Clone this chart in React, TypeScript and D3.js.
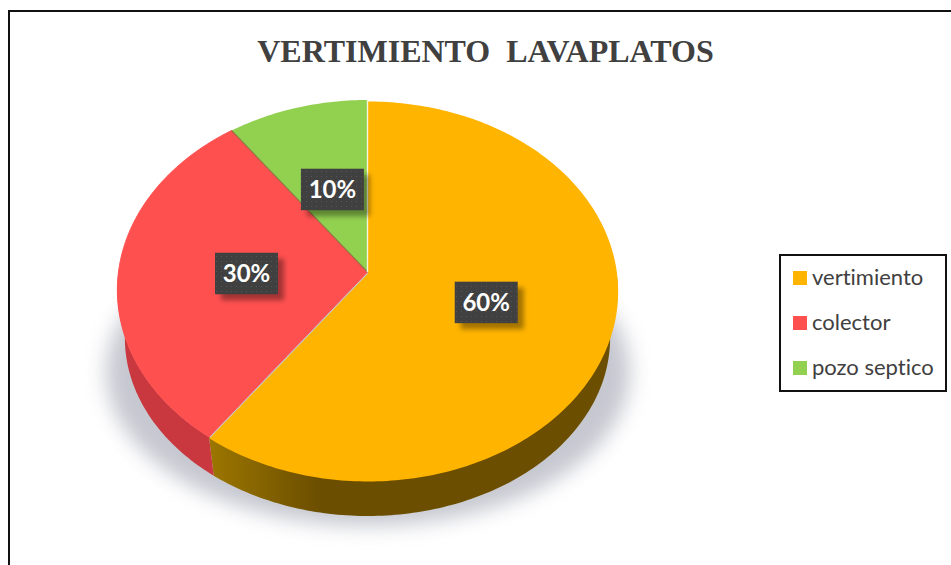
import React from "react";
import * as d3 from "d3";

const categories = ["vertimiento", "colector", "pozo septico"];
const values = [60, 30, 10];
const colors = ["#FFB400", "#FF5050", "#92D050"];
const sideColors = ["url(#sideYellow)", "#C9383F", "#6b8f3a"];
const titleText = "VERTIMIENTO  LAVAPLATOS";

const W = 951;
const H = 565;

// perspective projection of the unit disc onto the tilted pie face
const APEX = { x: 367.5, y: 272 };
const SX = 249;
const PY = 162.5;
const R = -0.0947;
function project(angle: number, r = 1) {
  const u = Math.sin(angle) * r;
  const t = -Math.cos(angle) * r;
  const d = 1 + R * t;
  return { x: APEX.x + (SX * u) / d, y: (PY * t + APEX.y) / d };
}
function projectBottom(angle: number) {
  const p = project(angle);
  return { x: APEX.x + (p.x - APEX.x) * 0.97, y: 338 + (p.y - 290) * 0.937 };
}
function arcPoints(a0: number, a1: number, f: (a: number) => { x: number; y: number }) {
  const n = Math.max(2, Math.ceil((a1 - a0) * 60));
  return d3.range(n + 1).map((i) => f(a0 + ((a1 - a0) * i) / n));
}
const line = d3
  .line<{ x: number; y: number }>()
  .x((d) => d.x)
  .y((d) => d.y);

export default function App() {
  const arcs = d3
    .pie<number>()
    .sort(null)
    .startAngle(0)
    .endAngle(2 * Math.PI)(values);

  const legendY = d3
    .scalePoint<string>()
    .domain(categories)
    .range([278, 368]);

  const offsets = [{ x: 0.5, y: 1.5 }, { x: 0, y: 0 }, { x: 0, y: 0 }];
  const faceOrder = [1, 2, 0];

  return (
    <svg
      width={W}
      height={H}
      viewBox={`0 0 ${W} ${H}`}
      style={{ position: "absolute", left: 0, top: 0, background: "#fff" }}
    >
      <defs>
        <filter id="pieShadow" x="-20%" y="-20%" width="140%" height="140%">
          <feGaussianBlur stdDeviation="10" />
        </filter>
        <filter id="labelShadow" x="-30%" y="-30%" width="160%" height="160%">
          <feGaussianBlur stdDeviation="2.5" />
        </filter>
        <linearGradient id="sideYellow" gradientUnits="userSpaceOnUse" x1="210" y1="0" x2="320" y2="0">
          <stop offset="0" stopColor="#9C7600" />
          <stop offset="1" stopColor="#6B4E00" />
        </linearGradient>
        <pattern id="labelDots" width="5" height="5" patternUnits="userSpaceOnUse">
          <rect width="5" height="5" fill="#404040" />
          <rect x="1" y="1" width="1" height="1" fill="#565656" />
        </pattern>
      </defs>

      <rect x={9} y={11} width={W + 10} height={H + 10} fill="#fff" stroke="#111" strokeWidth={2} />

      <text
        x={485.5}
        y={62}
        textAnchor="middle"
        fontFamily="'Liberation Serif', serif"
        fontWeight={700}
        fontSize={32}
        fill="#404040"
        style={{ whiteSpace: "pre" }}
      >
        {titleText}
      </text>

      <ellipse cx={368} cy={372} rx={262} ry={154} fill="#C6C8D0" filter="url(#pieShadow)" />

      {arcs.slice(0, 2).map((a, i) => {
        const a0 = Math.max(a.startAngle, Math.PI / 2);
        const a1 = Math.min(a.endAngle, (3 * Math.PI) / 2);
        const top = arcPoints(a0, a1, project);
        const bottom = arcPoints(a0, a1, projectBottom).reverse();
        return (
          <path key={categories[i]} d={`${line([...top, ...bottom])}Z`} fill={sideColors[i]} />
        );
      })}

      {faceOrder.map((i) => {
        const a = arcs[i];
        const pts = arcPoints(a.startAngle, a.endAngle, project);
        return (
          <path
            key={categories[i]}
            d={`${line([APEX, ...pts])}Z`}
            fill={colors[i]}
            stroke={i === 1 ? colors[i] : "none"}
            strokeWidth={i === 1 ? 1 : 0}
            transform={`translate(${offsets[i].x},${offsets[i].y})`}
          />
        );
      })}

      <path d={`${line([APEX, project(arcs[2].startAngle)])}`} stroke="#7E6A3C" strokeWidth={1.2} strokeOpacity={0.7} fill="none" />
      <path d={`${line([APEX, project(0)])}`} stroke="#F4F7DC" strokeWidth={1.4} fill="none" />

      {arcs.map((a, i) => {
        const mid = (a.startAngle + a.endAngle) / 2;
        const c = project(mid, 0.49);
        const cx = c.x + 1;
        const cy = c.y + 1.5;
        const w = 63;
        const h = 41.5;
        return (
          <g key={categories[i]}>
            <rect
              x={cx - w / 2 + 6}
              y={cy - h / 2 + 6}
              width={w}
              height={h}
              fill="#000"
              fillOpacity={0.36}
              filter="url(#labelShadow)"
            />
            <rect x={cx - w / 2} y={cy - h / 2} width={w} height={h} fill="url(#labelDots)" />
            <text
              x={cx}
              y={cy + 8.5}
              textAnchor="middle"
              fontFamily="Lato, sans-serif"
              fontWeight={700}
              fontSize={24}
              fill="#fff"
            >
              {`${values[i]}%`}
            </text>
          </g>
        );
      })}

      <rect x={780} y={255} width={166} height={136} fill="#fff" stroke="#111" strokeWidth={2} />
      {categories.map((c, i) => {
        const y = legendY(c) as number;
        return (
          <g key={c}>
            <rect x={793} y={y - 7} width={14} height={14} fill={colors[i]} />
            <text
              x={812}
              y={y + 7}
              fontFamily="Lato, sans-serif"
              fontSize={22}
              fill="#404040"
              style={{ fontVariantLigatures: "none" }}
            >
              {c}
            </text>
          </g>
        );
      })}
    </svg>
  );
}
